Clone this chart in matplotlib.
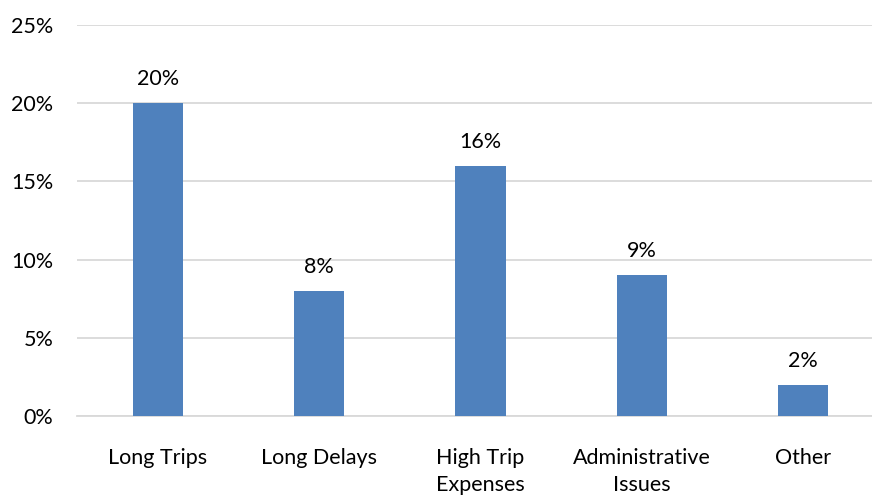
import matplotlib.pyplot as plt
from matplotlib.ticker import FuncFormatter

categories = ['Long Trips', 'Long Delays', 'High Trip\nExpenses', 'Administrative\nIssues', 'Other']
values = [20, 8, 16, 9, 2]
yticks = [0, 5, 10, 15, 20, 25]

plt.rcParams['font.family'] = ['Lato', 'DejaVu Sans']

fig = plt.figure(figsize=(8.72, 4.95), dpi=100)
ax = fig.add_axes([77/872, 1 - 416/495, 807/872, 391/495])

x = range(len(categories))
bars = ax.bar(x, values, width=0.31, color='#4F81BD', zorder=3)
for b, v in zip(bars, values):
    ax.annotate('%d%%' % v, (b.get_x() + b.get_width()/2, v), xytext=(0, 10),
                textcoords='offset points', ha='center', va='bottom', fontsize=15.5, color='black')

ax.set_xlim(-0.5, 4.5)
ax.set_ylim(0, 25)
ax.set_yticks(yticks)
ax.yaxis.set_major_formatter(FuncFormatter(lambda v, p: '%d%%' % v))
ax.set_xticks(list(x))
ax.set_xticklabels(categories, fontsize=15.5, va='top', linespacing=1.45)
ax.tick_params(axis='y', labelsize=15.5, length=0, pad=17)
ax.tick_params(axis='x', length=0, pad=23)
ax.grid(axis='y', color='#D9D9D9', linewidth=1.3, zorder=0)
for s in ['top', 'right', 'left']:
    ax.spines[s].set_visible(False)
ax.spines['bottom'].set_color('#D9D9D9')
ax.spines['bottom'].set_linewidth(1.3)

fig.savefig('out.png', dpi=100)
